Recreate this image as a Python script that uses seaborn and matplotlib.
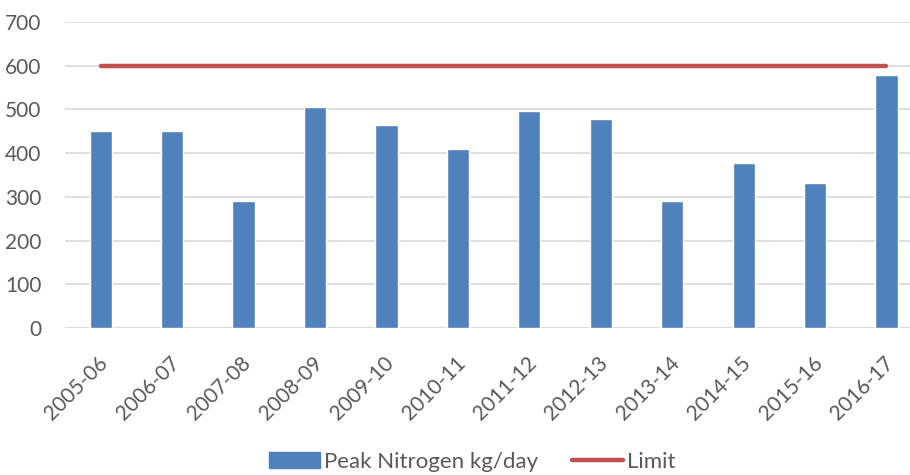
import matplotlib
matplotlib.use("Agg")
import matplotlib.pyplot as plt
import numpy as np
import pandas as pd
import seaborn as sns
from matplotlib.lines import Line2D
from matplotlib.patches import Patch
from matplotlib.transforms import ScaledTranslation

SEASONS = ["2005-06", "2006-07", "2007-08", "2008-09", "2009-10", "2010-11",
           "2011-12", "2012-13", "2013-14", "2014-15", "2015-16", "2016-17"]
PEAK_N = [451, 451, 290, 505, 465, 410, 497, 478, 290, 378, 332, 579]
LIMIT = [600] * len(SEASONS)

BAR = "#4F81BD"
RED = "#C0504D"
GREY = "#595959"

sns.set_theme(style="white")
plt.rcParams["font.family"] = ["Lato", "DejaVu Sans"]

data = pd.DataFrame({"season": SEASONS, "peak": PEAK_N, "limit": LIMIT})

fig = plt.figure(figsize=(9.1, 4.75), dpi=100)
ax = fig.add_axes([0.0714, 0.3095, 0.942, 0.6442])

sns.barplot(data=data, x="season", y="peak", color=BAR, width=0.31,
            saturation=1, ax=ax, zorder=3)
ax.plot(np.arange(len(SEASONS)), data["limit"], color=RED, linewidth=3.2,
        solid_capstyle="round", zorder=4)

ax.set_ylim(0, 700)
ax.set_xlim(-0.5, len(SEASONS) - 0.5)
ax.set_yticks(range(0, 701, 100))
ax.yaxis.grid(True, color="#D9D9D9", linewidth=1.2)
ax.set_axisbelow(True)
for side in ["left", "right", "top", "bottom"]:
    ax.spines[side].set_visible(False)
ax.axhline(0, color="#D9D9D9", linewidth=1.2, zorder=2)
ax.set_xlabel("")
ax.set_ylabel("")
ax.tick_params(axis="y", length=0, labelsize=15, labelcolor=GREY, pad=17)
ax.tick_params(axis="x", length=0, labelsize=15, labelcolor=GREY, pad=18)
shift = ScaledTranslation(-2 / 72, 0, fig.dpi_scale_trans)
for lab in ax.get_xticklabels():
    lab.set_rotation(45)
    lab.set_ha("right")
    lab.set_rotation_mode("anchor")
    lab.set_transform(lab.get_transform() + shift)

handles = [Patch(facecolor=BAR, edgecolor=BAR),
           Line2D([0], [0], color=RED, linewidth=3.2)]
fig.legend(handles, ["Peak Nitrogen kg/day", "Limit"], loc="lower center",
           bbox_to_anchor=(0.519, -0.035), ncol=2, frameon=False, fontsize=16,
           labelcolor=GREY, handlelength=2.3, handletextpad=0.2,
           columnspacing=1.5)

fig.savefig("out.png", dpi=100)
